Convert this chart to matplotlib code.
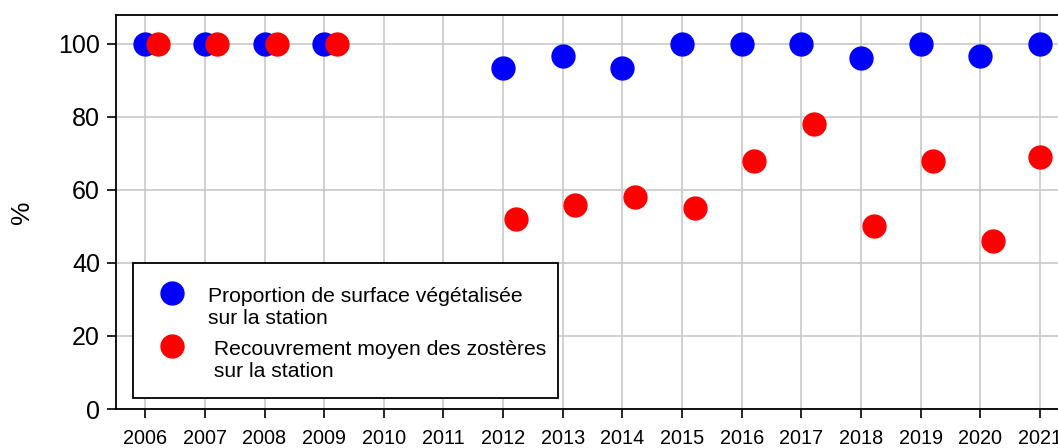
import matplotlib.pyplot as plt
from matplotlib.patches import Rectangle
import numpy as np

plt.rcParams['font.family'] = ['Liberation Sans', 'DejaVu Sans']

# values
years = [2006, 2007, 2008, 2009, 2010, 2011, 2012, 2013, 2014, 2015, 2016, 2017, 2018, 2019, 2020, 2021]
surface = [100, 100, 100, 100, np.nan, np.nan, 93.4, 96.7, 93.4, 100, 100, 100, 96.2, 100, 96.7, 100]
recouvrement = [100, 100, 100, 100, np.nan, np.nan, 52, 56, 58, 55, 68, 78, 50, 68, 46, 69]
label_surface = 'Proportion de surface végétalisée\nsur la station'
label_recouv = ' Recouvrement moyen des zostères\n sur la station'
yticks = [0, 20, 40, 60, 80, 100]

blue = '#0000ff'
red = '#ff0000'
msize = 16.5

# red dots are drawn a little right of the year (except the last one)
shift = np.full(len(years), 0.21)
shift[-1] = 0.0

fig = plt.figure(figsize=(10.58, 4.48), dpi=100)
ax = fig.add_axes([0.1096, 0.087, 0.896, 0.8795])

x = np.array(years, dtype=float)
ax.plot(x, surface, 'o', color=blue, markersize=msize, linestyle='none', zorder=3)
ax.plot(x + shift, recouvrement, 'o', color=red, markersize=msize, linestyle='none', zorder=3)

ax.set_xlim(2005.51, 2021.4)
ax.set_ylim(0, 107.9)
ax.set_xticks(years)
ax.set_xticklabels([str(y) for y in years], fontsize=14.3)
ax.set_yticks(yticks)
ax.set_yticklabels([str(v) for v in yticks], fontsize=18)
ax.tick_params(direction='out', length=6.5, width=1.2)
ax.tick_params(axis='x', pad=8)
ax.tick_params(axis='y', pad=5)
ax.set_ylabel('%', fontsize=19, labelpad=17)

ax.grid(True, color='#c8c8c8', linewidth=1.2)
ax.set_axisbelow(True)
for s in ax.spines.values():
    s.set_linewidth(1.3)
    s.set_color('black')

# legend box drawn by hand, markers level with the first text line (R style)
box = Rectangle((0.0179, 0.0279), 0.4483, 0.3427, transform=ax.transAxes,
                facecolor='white', edgecolor='black', linewidth=1.3, zorder=5)
ax.add_patch(box)
for yy, col, lab, ty in [(0.2944, blue, label_surface, 0.2575),
                         (0.1599, red, label_recouv, 0.1230)]:
    ax.plot([0.0591], [yy], 'o', color=col, markersize=msize, transform=ax.transAxes,
            zorder=6, clip_on=False)
    ax.text(0.097, ty, lab, transform=ax.transAxes, fontsize=15.2, va='center',
            ha='left', linespacing=1.15, zorder=6)

fig.savefig('out.png', dpi=100)
